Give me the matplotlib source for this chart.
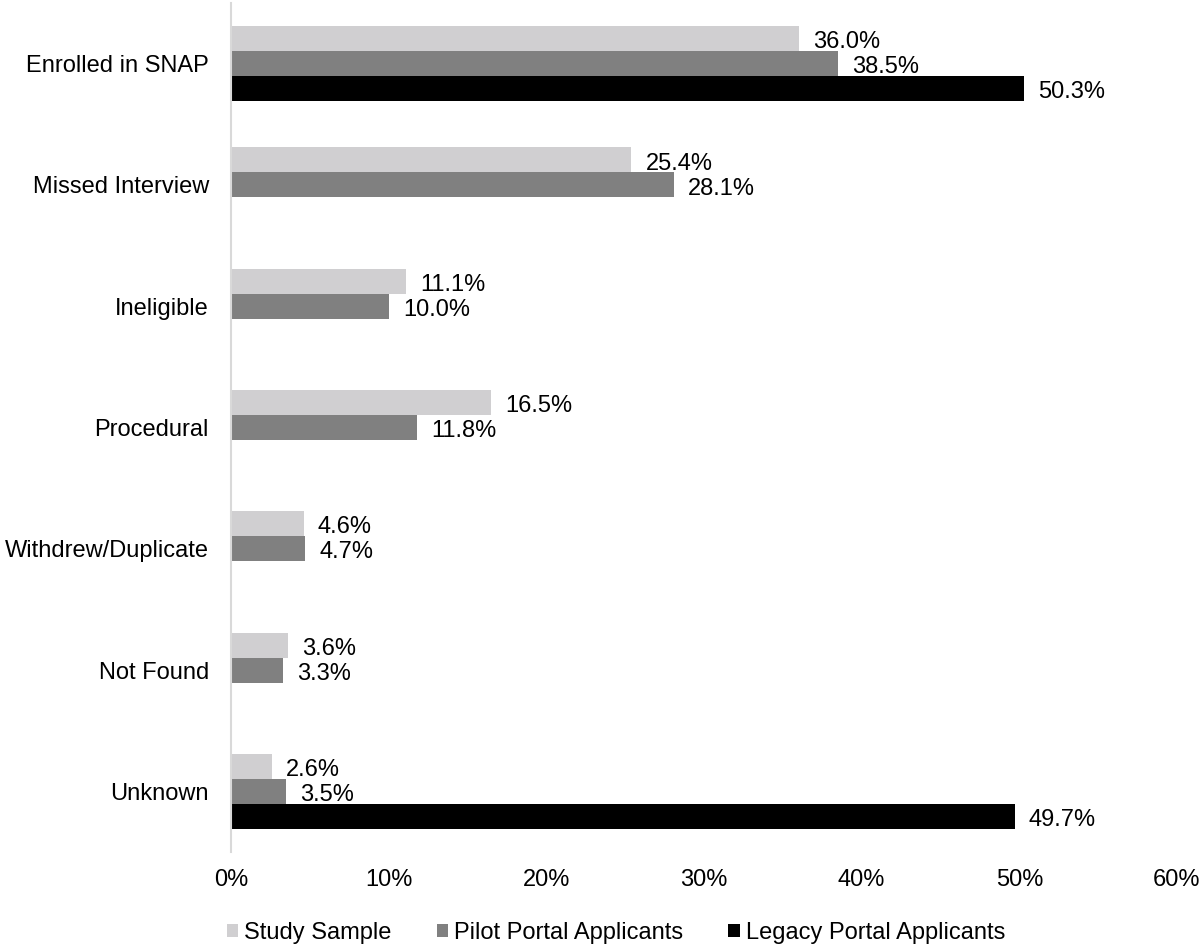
import matplotlib.pyplot as plt
import numpy as np

plt.rcParams['font.family'] = ['Liberation Sans', 'DejaVu Sans']

categories = ['Enrolled in SNAP', 'Missed Interview', 'Ineligible', 'Procedural',
              'Withdrew/Duplicate', 'Not Found', 'Unknown']
study = [36.0, 25.4, 11.1, 16.5, 4.6, 3.6, 2.6]
pilot = [38.5, 28.1, 10.0, 11.8, 4.7, 3.3, 3.5]
legacy = [50.3, None, None, None, None, None, 49.7]

series = [('Study Sample', study, '#d0cfd1'),
          ('Pilot Portal Applicants', pilot, '#808080'),
          ('Legacy Portal Applicants', legacy, '#000000')]

fs = 17
fig = plt.figure(figsize=(12.02, 9.47), dpi=100)
ax = fig.add_axes([0.1922, 0.1003, 0.787, 0.8965])

y = np.arange(len(categories))
h = 0.206
for k, (name, vals, color) in enumerate(series):
    off = (k - 1) * h
    for i, v in enumerate(vals):
        if v is None:
            continue
        ax.barh(y[i] + off, v, height=h, color=color,
                label=name if i == 0 else None)
        ax.text(v + 0.9, y[i] + off + 0.03, '{:.1f}%'.format(v),
                va='center', ha='left', fontsize=fs)

ax.set_xlim(0, 60)
ax.set_ylim(len(categories) - 0.5, -0.5)
ax.set_xticks(np.arange(0, 61, 10))
ax.set_xticklabels(['{}%'.format(t) for t in range(0, 61, 10)], fontsize=fs)
ax.set_yticks(y)
ax.set_yticklabels(categories, fontsize=fs)
ax.tick_params(length=0, axis='y', pad=16)
ax.tick_params(length=0, axis='x', pad=12)
for s in ['top', 'right', 'bottom']:
    ax.spines[s].set_visible(False)
ax.spines['left'].set_color('#d9d9d9')
ax.spines['left'].set_linewidth(1.5)

ax.legend(loc='lower center', bbox_to_anchor=(0.407, -0.125), ncol=3, frameon=False,
          fontsize=fs, handlelength=0.5, handleheight=0.5, handletextpad=0.25,
          columnspacing=1.9, borderpad=0.1)

fig.savefig('out.png', dpi=100)
